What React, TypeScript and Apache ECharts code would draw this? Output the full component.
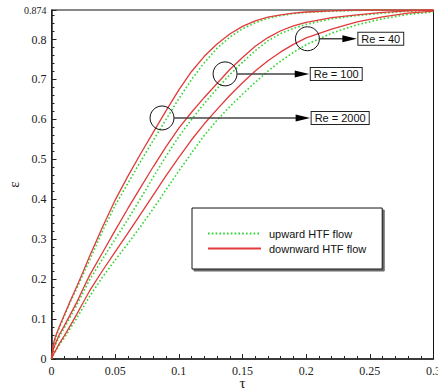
import React, { useEffect, useRef } from 'react';
import * as echarts from 'echarts';

// dimensionless time (x)
const tau = [0, 0.0015, 0.003, 0.006, 0.01, 0.015, 0.02, 0.025, 0.03, 0.04, 0.05, 0.06, 0.07, 0.08, 0.09, 0.10, 0.11, 0.12, 0.13, 0.14, 0.15, 0.16, 0.17, 0.18, 0.19, 0.20, 0.22, 0.24, 0.26, 0.28, 0.30];

// downward HTF flow (red, solid)
const downRe2000 = [0, 0.038, 0.055, 0.08, 0.11, 0.147, 0.183, 0.22, 0.258, 0.33, 0.398, 0.458, 0.514, 0.568, 0.622, 0.674, 0.72, 0.758, 0.789, 0.814, 0.833, 0.847, 0.856, 0.862, 0.866, 0.869, 0.872, 0.874, 0.874, 0.874, 0.874];
const downRe100 = [0, 0.025, 0.038, 0.06, 0.083, 0.113, 0.143, 0.177, 0.21, 0.266, 0.322, 0.377, 0.43, 0.482, 0.532, 0.578, 0.618, 0.655, 0.69, 0.725, 0.755, 0.783, 0.805, 0.822, 0.834, 0.843, 0.855, 0.862, 0.868, 0.872, 0.874];
const downRe40 = [0, 0.012, 0.02, 0.038, 0.058, 0.085, 0.113, 0.142, 0.171, 0.221, 0.268, 0.315, 0.363, 0.411, 0.459, 0.505, 0.549, 0.589, 0.625, 0.66, 0.692, 0.721, 0.747, 0.769, 0.788, 0.804, 0.826, 0.844, 0.857, 0.866, 0.871];

// upward HTF flow (green, dotted)
const upRe2000 = [0, 0.03, 0.05, 0.077, 0.107, 0.145, 0.178, 0.213, 0.248, 0.32, 0.385, 0.44, 0.495, 0.548, 0.6, 0.652, 0.70, 0.742, 0.778, 0.806, 0.827, 0.842, 0.853, 0.86, 0.865, 0.868, 0.871, 0.873, 0.874, 0.874, 0.874];
const upRe100 = [0, 0.022, 0.035, 0.055, 0.078, 0.107, 0.136, 0.168, 0.199, 0.25, 0.30, 0.35, 0.402, 0.456, 0.508, 0.557, 0.60, 0.64, 0.677, 0.712, 0.743, 0.772, 0.797, 0.815, 0.828, 0.838, 0.852, 0.86, 0.866, 0.871, 0.873];
const upRe40 = [0, 0.01, 0.018, 0.034, 0.053, 0.078, 0.103, 0.13, 0.157, 0.205, 0.248, 0.289, 0.332, 0.377, 0.424, 0.471, 0.516, 0.56, 0.598, 0.632, 0.663, 0.693, 0.721, 0.746, 0.768, 0.787, 0.816, 0.837, 0.852, 0.863, 0.869];

// annotations
const annotTau = [0.0868, 0.1363, 0.201];
const annotEps = [0.6036, 0.714, 0.802];
const annotLabelTau = [0.2043, 0.2036, 0.241];
const annotLabels = ['Re = 2000', 'Re = 100', 'Re = 40'];

const legendUp = 'upward HTF flow';
const legendDown = 'downward HTF flow';

const fmt = (v: number) => String(parseFloat(v.toFixed(3)));

export default function App() {
  const ref = useRef<HTMLDivElement>(null);
  useEffect(() => {
    if (!ref.current) return;
    const chart = echarts.init(ref.current, null, { renderer: 'svg' });
    const pair = (ys: number[]) => tau.map((t, i) => [t, ys[i]]);
    const redStyle = { color: '#e23a3a', width: 1.3, type: 'solid' as const };
    const greenStyle = { color: '#2fd62f', width: 1.6, type: [1.6, 2.2] as any };
    const mk = (name: string, ys: number[], ls: any) => ({
      type: 'line', name, data: pair(ys), symbol: 'none', showSymbol: false,
      smooth: false, lineStyle: ls, itemStyle: { color: ls.color }, z: name === legendDown ? 3 : 2,
    });
    const axisColor = '#222';
    chart.setOption({
      animation: false,
      backgroundColor: '#fff',
      grid: {
        left: 51.5, right: 4.5, top: 10, bottom: 31, show: true, borderColor: '#111', borderWidth: 1,
        backgroundColor: 'transparent', containLabel: false, outerBoundsMode: 'none',
      },
      legend: {
        data: [legendUp, legendDown], orient: 'vertical', left: 192, top: 208,
        itemWidth: 53, itemHeight: 10, itemGap: 4, padding: [20, 16, 15, 15],
        borderColor: '#111', borderWidth: 1, backgroundColor: '#fff', selectedMode: false,
        itemStyle: { opacity: 0 },
        shadowColor: 'rgba(90,90,90,0.9)', shadowOffsetX: 2, shadowOffsetY: 2, shadowBlur: 1,
        textStyle: { fontFamily: 'Liberation Sans, Arial, sans-serif', fontSize: 11, color: '#111', padding: [0, 0, 0, 3] },
      },
      xAxis: {
        type: 'value', min: 0, max: 0.3, interval: 0.05,
        axisLine: { lineStyle: { color: axisColor, width: 1.5 } },
        axisTick: { inside: true, length: 5, lineStyle: { color: axisColor } },
        minorTick: { show: true, splitNumber: 5, length: 3, lineStyle: { color: axisColor } },
        splitLine: { show: false },
        axisLabel: { fontFamily: 'Liberation Serif, serif', fontSize: 12, lineHeight: 12, color: '#222', margin: 6, formatter: fmt, showMaxLabel: true },
        name: 'τ', nameLocation: 'middle', nameGap: 18, nameMoveOverlap: false,
        nameTextStyle: { fontFamily: 'Liberation Serif, serif', fontSize: 15, lineHeight: 12, color: '#222' },
      },
      yAxis: {
        type: 'value', min: 0, max: 0.874, interval: 0.1,
        axisLine: { lineStyle: { color: axisColor, width: 1.5 } },
        axisTick: { inside: true, length: 5, lineStyle: { color: axisColor } },
        minorTick: { show: true, splitNumber: 5, length: 3, lineStyle: { color: axisColor } },
        splitLine: { show: false },
        axisLabel: {
          fontFamily: 'Liberation Serif, serif', fontSize: 12, color: '#222', margin: 5, showMaxLabel: true,
          formatter: (v: number) => (Math.abs(v - 0.874) < 1e-6 ? '{s|0.874}' : fmt(v)),
          rich: { s: { fontFamily: 'Liberation Serif, serif', fontSize: 10, color: '#222' } },
        },
        name: 'ε', nameLocation: 'middle', nameGap: 30, nameMoveOverlap: false,
        nameTextStyle: { fontFamily: 'Liberation Serif, serif', fontSize: 15, color: '#222' },
      },
      series: [
        mk(legendUp, upRe2000, greenStyle),
        mk(legendUp, upRe100, greenStyle),
        mk(legendUp, upRe40, greenStyle),
        mk(legendDown, downRe2000, redStyle),
        mk(legendDown, downRe100, redStyle),
        mk(legendDown, downRe40, redStyle),
        {
          type: 'custom', name: 'annotations', z: 5,
          data: annotTau.map((t, i) => [t, annotEps[i], annotLabelTau[i]]),
          encode: { x: 0, y: 1 },
          renderItem: (params: any, api: any) => {
            const p = api.coord([api.value(0), api.value(1)]);
            const tx = api.coord([api.value(2), api.value(1)])[0];
            const r = 12;
            const cy = p[1];
            return {
              type: 'group',
              children: [
                { type: 'circle', shape: { cx: p[0], cy, r }, style: { fill: 'none', stroke: '#111', lineWidth: 1 } },
                { type: 'line', shape: { x1: p[0] + r, y1: cy, x2: tx - 12, y2: cy }, style: { stroke: '#444', lineWidth: 1.5 } },
                { type: 'polygon', shape: { points: [[tx - 16, cy - 3.5], [tx - 1.5, cy], [tx - 16, cy + 3.5]] }, style: { fill: '#000' } },
                {
                  type: 'text', x: tx, y: cy,
                  style: {
                    text: annotLabels[params.dataIndex], fontSize: 11, fontFamily: 'Liberation Sans, Arial, sans-serif',
                    fill: '#111', align: 'left', verticalAlign: 'middle',
                    borderColor: '#222', borderWidth: 1, padding: [1, 3, 0, 3], backgroundColor: '#fff',
                  },
                },
              ],
            };
          },
        },
      ],
    });
    return () => chart.dispose();
  }, []);
  return <div ref={ref} style={{ position: 'fixed', left: 0, top: 0, width: 438, height: 390 }} />;
}
